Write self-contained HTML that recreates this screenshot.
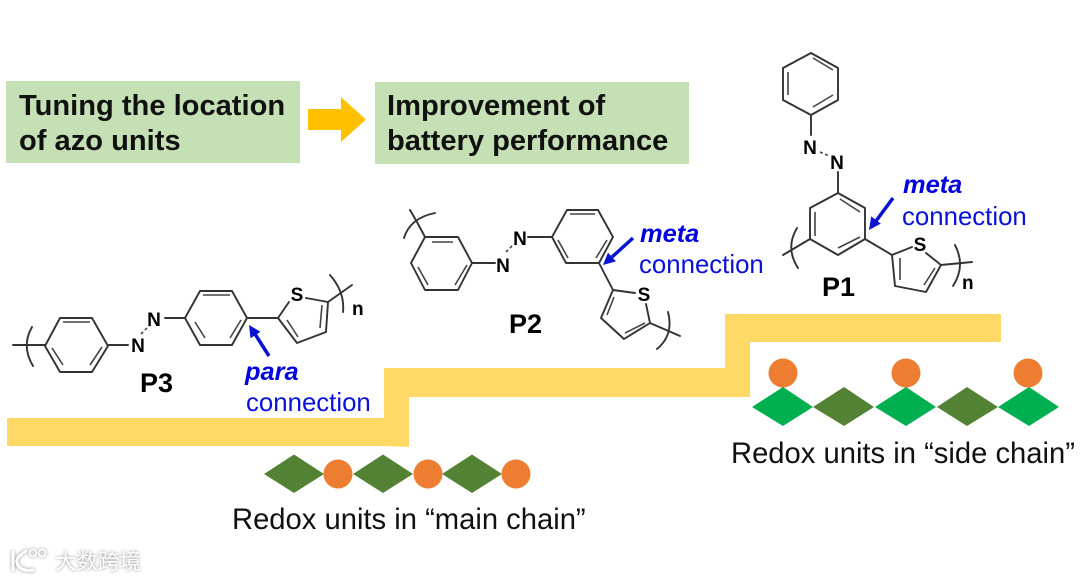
<!DOCTYPE html>
<html lang="en">
<head>
<meta charset="utf-8">
<title>Azo unit location and battery performance</title>
<style>
html,body{margin:0;padding:0;background:#fff;width:1080px;height:581px;overflow:hidden}
svg{display:block;filter:blur(.3px)}
text{font-family:"Liberation Sans","Noto Sans CJK SC",sans-serif}
.b{stroke:#333;stroke-width:1.9;fill:none;stroke-linejoin:round;stroke-linecap:round}
.i{stroke:#444;stroke-width:1.6;fill:none}
.d{stroke:#444;stroke-width:1.6;stroke-dasharray:3 2.5;fill:none}
.a{font-weight:bold;font-size:19px;fill:#000;text-anchor:middle}
.l{font-weight:bold;font-size:27px;fill:#000}
.h{font-weight:bold;font-size:29.100px;fill:#111}
.m{font-weight:bold;font-style:italic;font-size:25.400px;fill:#0000e0}
.c{font-size:25.800px;fill:#0a10dc}
.r{font-size:29.200px;fill:#111}
</style>
</head>
<body>
<svg width="1080" height="581" viewBox="0 0 1080 581" xmlns="http://www.w3.org/2000/svg">
<rect width="1080" height="581" fill="#fff"/>

<!-- header boxes -->
<rect x="6" y="81" width="294" height="82" fill="#c5e0b4"/>
<rect x="375" y="82" width="314" height="82" fill="#c5e0b4"/>
<polygon points="308,109 341,109 341,97 366,119.500 341,142 341,130 308,130" fill="#ffc000"/>
<text class="h" x="19" y="115">Tuning the location</text>
<text class="h" x="19" y="150">of azo units</text>
<text class="h" x="387" y="115">Improvement of</text>
<text class="h" x="387" y="150">battery performance</text>

<!-- stair band -->
<polygon points="7,418 384,418 384,368 725,368 725,314 1001,314 1001,342 750,342 750,397 409,397 409,447 384,446 7,446" fill="#ffd966"/>

<!-- P3 -->
<polygon class="b" points="45,346 60,318 92,318 108,346 92,372 60,372"/>
<path class="i" d="M63 322H90M52 348L63 365M102 347L90 365"/>
<path class="b" d="M13 345H45M32 327Q21 346 33 366M108 345H128M165 318H185"/>
<path class="d" d="M141 334L149 326"/>
<text class="a" x="138" y="352">N</text>
<text class="a" x="154" y="326">N</text>
<polygon class="b" points="185,318 200,291 232,291 247,318 232,345 200,345"/>
<path class="i" d="M203 295H230M195 322L205 338M241 320L230 338"/>
<path class="b" d="M247 318H278L289 302M306 298L328 302L326 332L297 343L278 318M328 302L352 285M330 275Q345 292 343 312"/>
<path class="i" d="M287 320L298 337M322 305L320 328"/>
<text class="a" x="297" y="301">S</text>
<text x="352" y="315" style="font-weight:bold;font-size:19px;fill:#000">n</text>
<text class="l" x="140" y="392">P3</text>
<path d="M269 356L255 334" stroke="#0a14d0" stroke-width="3.500" fill="none"/>
<polygon points="249,325 260.500,331.800 250.500,338.200" fill="#0a14d0"/>
<text class="m" x="245" y="380">para</text>
<text class="c" x="246" y="411">connection</text>

<!-- P2 -->
<polygon class="b" points="425,237 458,237 472,263 458,290 425,290 411,263"/>
<path class="i" d="M432 242H453M418 267L428 285M467 265L455 285"/>
<path class="b" d="M425 237L417 222M410 210L417 222M404 238Q410 218 435 213M472 263H495M528 237H552"/>
<path class="d" d="M506 252L514 244"/>
<text class="a" x="503" y="272">N</text>
<text class="a" x="520" y="245">N</text>
<polygon class="b" points="552,237 567,210 598,210 613,237 599,263 566,263"/>
<path class="i" d="M570 214H595M558 240L568 258M607 240L596 258"/>
<path class="b" d="M599 263L613 290L635 293M646 304L650 323L624 339L601 318L613 290M650 323L680 336M668 312Q674 335 657 349"/>
<path class="i" d="M614 297L607 315M625 333L645 323"/>
<text class="a" x="644" y="301">S</text>
<text class="l" x="509" y="333">P2</text>
<path d="M633 238L612 257" stroke="#0a14d0" stroke-width="3.500" fill="none"/>
<polygon points="603,265 616,261.400 608,252.600" fill="#0a14d0"/>
<text class="m" x="640" y="242">meta</text>
<text class="c" x="639" y="273">connection</text>

<!-- P1 -->
<polygon class="b" points="811,53 838,68 838,100 811,115 783,100 783,68"/>
<path class="i" d="M788 72V95M813 58L833 70M833 95L813 107"/>
<path class="b" d="M811 115V135M838 172V193"/>
<path class="d" d="M820 152L829 156"/>
<text class="a" x="810" y="154">N</text>
<text class="a" x="837" y="169">N</text>
<polygon class="b" points="838,193 865,208 865,239 838,255 810,239 810,208"/>
<path class="i" d="M815 212V236M840 199L860 212M838 248L860 237"/>
<path class="b" d="M810 239L783 255M797 228Q785 248 798 268M865 239L892 255L912 247M926 253L941 265L926 292L895 286L892 255M941 265L972 262M955 245Q966 266 953 286"/>
<path class="i" d="M900 258L900 280M935 268L924 285"/>
<text class="a" x="920" y="251">S</text>
<text x="962" y="289" style="font-weight:bold;font-size:19px;fill:#000">n</text>
<text class="l" x="822" y="296">P1</text>
<path d="M893 198L876 221" stroke="#0a14d0" stroke-width="3.500" fill="none"/>
<polygon points="869,230 880.800,223.600 871.200,216.400" fill="#0a14d0"/>
<text class="m" x="903" y="193">meta</text>
<text class="c" x="902" y="225">connection</text>

<!-- main chain -->
<g fill="#548235">
<polygon points="264,474 294,454.500 324,474 294,493"/>
<polygon points="353,474 383,454.500 413,474 383,493"/>
<polygon points="442,474 472,454.500 502,474 472,493"/>
</g>
<g fill="#ed7d31">
<circle cx="338" cy="474" r="14.500"/>
<circle cx="428" cy="474" r="14.500"/>
<circle cx="516" cy="474" r="14.500"/>
</g>
<text class="r" x="232" y="529">Redox units in “main chain”</text>

<!-- side chain -->
<g fill="#ed7d31">
<circle cx="783" cy="373" r="14.500"/>
<circle cx="906" cy="373" r="14.500"/>
<circle cx="1028" cy="373" r="14.500"/>
</g>
<polygon points="752,407 783,387 813,407 783,426" fill="#00b050"/>
<polygon points="813,407 844,387 874,407 844,426" fill="#548235"/>
<polygon points="875,407 906,387 936,407 906,426" fill="#00b050"/>
<polygon points="937,407 967,387 998,407 967,426" fill="#548235"/>
<polygon points="998,407 1029,387 1059,407 1029,426" fill="#00b050"/>
<text class="r" x="731" y="463">Redox units in “side chain”</text>

<!-- watermark -->
<g style="filter:drop-shadow(0 0 1.500px #8a8a8a)">
<path d="M13 552V570M26 551Q15 558 17 563Q20 572 33 570" stroke="#fff" stroke-width="3" fill="none" stroke-linecap="round"/>
<circle cx="33" cy="553" r="3.500" fill="none" stroke="#fff" stroke-width="1.800"/>
<circle cx="42" cy="553" r="3.500" fill="none" stroke="#fff" stroke-width="1.800"/>
<text x="55" y="569" style="font-size:21.500px;fill:#fff">大数跨境</text>
</g>
</svg>
</body>
</html>
